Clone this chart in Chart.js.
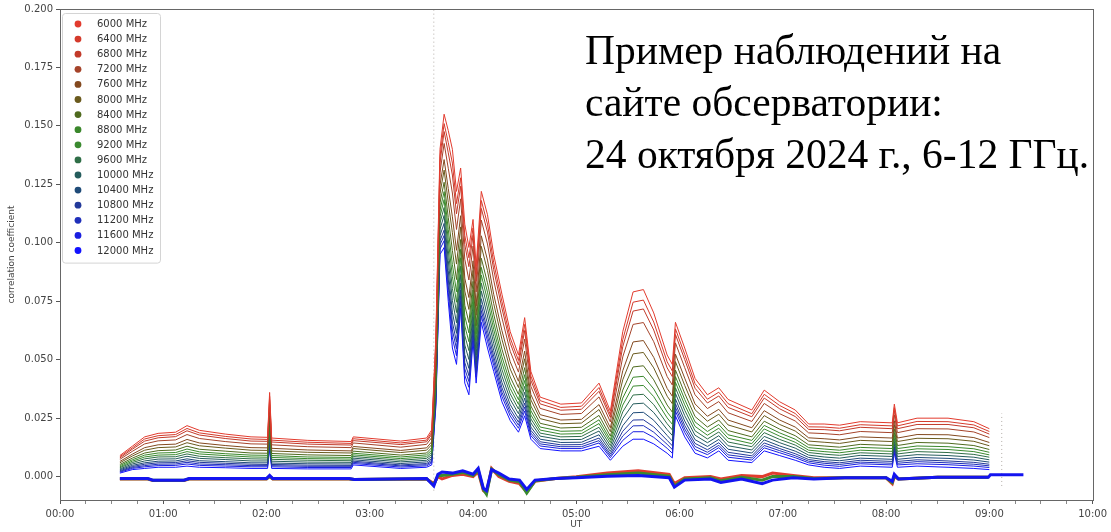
<!DOCTYPE html>
<html>
<head>
<meta charset="utf-8">
<script src="https://cdn.jsdelivr.net/npm/chart.js@4.4.1/dist/chart.umd.min.js"></script>
<style>
  body { margin: 0; background: #fff; }
  #wrap { position: relative; width: 1111px; height: 532px; }
  #note {
    position: absolute; left: 585px; top: 24px;
    font-family: "Liberation Serif", "DejaVu Serif", serif;
    font-size: 41.5px; line-height: 52px; color: #000;
    background: #fff; white-space: nowrap;
  }
</style>
</head>
<body>
<div id="wrap">
  <canvas id="myChart" width="1111" height="532"></canvas>
  <div id="note">Пример наблюдений на<br>сайте обсерватории:<br>24 октября 2024 г., 6-12 ГГц.</div>
</div>
<script>
// time in hours UT
const times = [0.58, 0.70, 0.82, 0.95, 1.12, 1.23, 1.35, 1.60, 1.85, 2.01, 2.03, 2.05, 2.40, 2.82, 2.84, 3.30, 3.55, 3.60, 3.64, 3.68,
  3.72, 3.76, 3.80, 3.84, 3.88, 3.92, 3.96, 4.00, 4.03, 4.08, 4.14, 4.20, 4.28, 4.36, 4.44, 4.50, 4.56, 4.65, 4.85, 5.05,
  5.22, 5.33, 5.45, 5.55, 5.65, 5.75, 5.88, 5.93, 5.96, 6.05, 6.15, 6.27, 6.38, 6.47, 6.70, 6.82, 6.97, 7.12, 7.25, 7.40,
  7.55, 7.75, 8.06, 8.08, 8.11, 8.30, 8.60, 8.85, 9.00];

const freqLabels = ["6000 MHz", "6400 MHz", "6800 MHz", "7200 MHz", "7600 MHz", "8000 MHz", "8400 MHz", "8800 MHz",
  "9200 MHz", "9600 MHz", "10000 MHz", "10400 MHz", "10800 MHz", "11200 MHz", "11600 MHz", "12000 MHz"];

const freqColors = ["#e23b2e", "#d43a2b", "#c23a2a", "#a5432a", "#83491f", "#6a5a1d", "#4f6a1e", "#3a872b",
  "#3a8a2f", "#2f6e47", "#255c5c", "#1f4b78", "#23399a", "#1f2fba", "#1a1fe0", "#1212ff"];

const f6000 = [.0090,.0130,.0170,.0185,.0190,.0218,.0198,.0182,.0170,.0168,.0360,.0165,.0155,.0150,.0170,.0152,.0165,.0200,.0600,.1400,
  .1550,.1480,.1400,.1220,.1320,.1080,.0980,.1100,.0900,.1220,.1120,.0950,.0780,.0620,.0520,.0680,.0450,.0340,.0310,.0315,
  .0400,.0280,.0620,.0790,.0800,.0700,.0520,.0480,.0660,.0550,.0420,.0350,.0380,.0330,.0285,.0370,.0320,.0285,.0225,.0225,
  .0220,.0235,.0230,.0310,.0230,.0250,.0250,.0235,.0205];
const f6400 = [.0085,.0123,.0161,.0175,.0180,.0206,.0187,.0172,.0161,.0159,.0343,.0156,.0147,.0142,.0162,.0144,.0156,.0190,.0579,.1369,
  .1510,.1429,.1341,.1168,.1278,.1032,.0936,.1064,.0865,.1181,.1080,.0915,.0748,.0593,.0497,.0651,.0430,.0325,.0296,.0301,
  .0381,.0265,.0586,.0746,.0755,.0661,.0491,.0452,.0632,.0523,.0398,.0331,.0361,.0312,.0269,.0352,.0304,.0270,.0213,.0212,
  .0207,.0222,.0217,.0295,.0217,.0236,.0235,.0221,.0193];
const f6800 = [.0080,.0117,.0152,.0166,.0171,.0196,.0178,.0163,.0152,.0151,.0329,.0148,.0139,.0135,.0154,.0137,.0149,.0181,.0561,.1342,
  .1476,.1385,.1290,.1124,.1242,.0992,.0898,.1032,.0835,.1147,.1046,.0885,.0720,.0571,.0477,.0625,.0412,.0311,.0284,.0288,
  .0365,.0253,.0556,.0708,.0717,.0627,.0465,.0428,.0608,.0501,.0378,.0315,.0345,.0296,.0256,.0336,.0290,.0257,.0202,.0201,
  .0196,.0211,.0205,.0283,.0205,.0223,.0223,.0209,.0182];
const f7200 = [.0074,.0108,.0140,.0153,.0157,.0180,.0163,.0150,.0140,.0139,.0307,.0136,.0128,.0124,.0144,.0126,.0138,.0167,.0534,.1301,
  .1425,.1319,.1213,.1057,.1188,.0930,.0841,.0986,.0790,.1097,.0995,.0840,.0679,.0536,.0447,.0588,.0386,.0292,.0266,.0270,
  .0341,.0234,.0512,.0651,.0659,.0577,.0428,.0392,.0572,.0466,.0350,.0291,.0321,.0273,.0236,.0313,.0269,.0238,.0187,.0184,
  .0179,.0193,.0188,.0264,.0188,.0205,.0204,.0191,.0167];
const f7600 = [.0065,.0096,.0124,.0136,.0139,.0159,.0144,.0133,.0124,.0123,.0278,.0121,.0114,.0110,.0129,.0112,.0123,.0149,.0498,.1247,
  .1356,.1232,.1111,.0968,.1116,.0849,.0766,.0923,.0730,.1030,.0926,.0780,.0624,.0491,.0408,.0537,.0351,.0265,.0242,.0245,
  .0308,.0209,.0453,.0576,.0582,.0510,.0377,.0344,.0524,.0421,.0311,.0258,.0288,.0242,.0209,.0282,.0242,.0212,.0166,.0162,
  .0157,.0170,.0165,.0239,.0165,.0180,.0179,.0167,.0146];
const f8000 = [.0059,.0088,.0113,.0124,.0127,.0145,.0132,.0122,.0113,.0112,.0259,.0110,.0104,.0101,.0120,.0103,.0113,.0137,.0474,.1211,
  .1311,.1173,.1043,.0909,.1068,.0794,.0715,.0882,.0690,.0985,.0881,.0740,.0587,.0460,.0381,.0504,.0328,.0248,.0226,.0229,
  .0287,.0192,.0414,.0525,.0531,.0465,.0344,.0312,.0492,.0390,.0286,.0237,.0267,.0221,.0191,.0261,.0223,.0195,.0152,.0147,
  .0142,.0155,.0150,.0222,.0150,.0164,.0162,.0151,.0132];
const f8400 = [.0052,.0079,.0101,.0111,.0114,.0130,.0117,.0109,.0101,.0100,.0238,.0099,.0093,.0090,.0109,.0092,.0101,.0124,.0447,.1171,
  .1259,.1108,.0967,.0843,.1014,.0733,.0659,.0835,.0645,.0934,.0829,.0695,.0545,.0426,.0352,.0466,.0302,.0228,.0208,.0211,
  .0262,.0173,.0370,.0469,.0474,.0414,.0306,.0276,.0456,.0356,.0257,.0212,.0242,.0197,.0170,.0237,.0203,.0175,.0136,.0131,
  .0126,.0138,.0133,.0203,.0133,.0146,.0143,.0133,.0116];
const f8800 = [.0047,.0072,.0092,.0101,.0103,.0118,.0106,.0098,.0092,.0091,.0221,.0090,.0084,.0082,.0100,.0084,.0093,.0113,.0426,.1139,
  .1219,.1057,.0907,.0791,.0972,.0686,.0615,.0798,.0610,.0895,.0789,.0660,.0513,.0400,.0329,.0436,.0282,.0212,.0194,.0196,
  .0243,.0158,.0336,.0425,.0429,.0375,.0276,.0248,.0428,.0330,.0234,.0193,.0223,.0179,.0155,.0219,.0187,.0160,.0124,.0118,
  .0113,.0125,.0120,.0188,.0120,.0131,.0128,.0119,.0104];
const f9200 = [.0042,.0066,.0084,.0092,.0094,.0107,.0097,.0090,.0084,.0083,.0206,.0082,.0077,.0075,.0093,.0077,.0085,.0104,.0408,.1112,
  .1185,.1013,.0856,.0746,.0936,.0645,.0577,.0767,.0580,.0862,.0755,.0630,.0486,.0377,.0309,.0411,.0264,.0199,.0182,.0184,
  .0227,.0146,.0306,.0387,.0390,.0342,.0251,.0224,.0404,.0307,.0215,.0177,.0207,.0164,.0141,.0204,.0173,.0147,.0113,.0107,
  .0102,.0113,.0108,.0176,.0108,.0119,.0116,.0107,.0093];
const f9600 = [.0038,.0060,.0076,.0084,.0085,.0097,.0087,.0081,.0076,.0075,.0192,.0074,.0070,.0068,.0086,.0070,.0078,.0095,.0390,.1085,
  .1151,.0969,.0805,.0702,.0900,.0604,.0539,.0736,.0550,.0828,.0721,.0600,.0458,.0354,.0289,.0386,.0247,.0186,.0170,.0172,
  .0211,.0133,.0277,.0349,.0352,.0308,.0226,.0200,.0380,.0284,.0196,.0161,.0191,.0148,.0128,.0188,.0159,.0135,.0103,.0096,
  .0091,.0102,.0097,.0163,.0097,.0107,.0103,.0095,.0083];
const f10000 = [.0033,.0054,.0067,.0075,.0076,.0087,.0078,.0073,.0067,.0067,.0178,.0066,.0062,.0061,.0079,.0063,.0070,.0086,.0372,.1058,
  .1117,.0925,.0754,.0658,.0864,.0563,.0501,.0705,.0520,.0794,.0687,.0570,.0430,.0331,.0269,.0361,.0230,.0173,.0158,.0159,
  .0195,.0120,.0248,.0311,.0314,.0274,.0201,.0176,.0356,.0261,.0177,.0145,.0175,.0132,.0114,.0172,.0145,.0122,.0092,.0084,
  .0079,.0091,.0086,.0150,.0086,.0094,.0090,.0083,.0072];
const f10400 = [.0029,.0048,.0059,.0066,.0067,.0076,.0068,.0064,.0059,.0059,.0163,.0058,.0055,.0054,.0072,.0056,.0063,.0077,.0354,.1031,
  .1083,.0881,.0703,.0613,.0828,.0522,.0463,.0674,.0490,.0761,.0653,.0540,.0403,.0308,.0249,.0336,.0212,.0160,.0146,.0147,
  .0179,.0108,.0218,.0273,.0275,.0241,.0176,.0152,.0332,.0238,.0158,.0129,.0159,.0117,.0101,.0157,.0131,.0109,.0082,.0073,
  .0068,.0079,.0074,.0138,.0074,.0082,.0078,.0071,.0062];
const f10800 = [.0025,.0043,.0053,.0059,.0060,.0068,.0061,.0057,.0053,.0052,.0151,.0052,.0049,.0048,.0066,.0050,.0056,.0070,.0339,.1009,
  .1054,.0845,.0661,.0576,.0798,.0488,.0432,.0648,.0465,.0733,.0624,.0515,.0380,.0289,.0233,.0315,.0198,.0149,.0136,.0137,
  .0165,.0097,.0194,.0242,.0243,.0213,.0155,.0132,.0312,.0219,.0142,.0115,.0145,.0104,.0089,.0144,.0120,.0098,.0073,.0064,
  .0059,.0070,.0065,.0127,.0065,.0072,.0067,.0061,.0053];
const f11200 = [.0022,.0039,.0047,.0053,.0054,.0061,.0054,.0051,.0047,.0047,.0142,.0047,.0044,.0044,.0061,.0046,.0051,.0064,.0327,.0991,
  .1031,.0816,.0627,.0547,.0774,.0461,.0407,.0627,.0445,.0710,.0601,.0495,.0361,.0274,.0220,.0298,.0186,.0140,.0128,.0128,
  .0154,.0089,.0174,.0217,.0218,.0190,.0138,.0116,.0296,.0204,.0129,.0104,.0134,.0093,.0080,.0133,.0111,.0089,.0066,.0057,
  .0052,.0062,.0057,.0119,.0057,.0064,.0059,.0053,.0046];
const f11600 = [.0019,.0035,.0042,.0047,.0048,.0054,.0048,.0045,.0042,.0042,.0132,.0042,.0039,.0039,.0056,.0041,.0046,.0058,.0315,.0973,
  .1009,.0787,.0593,.0517,.0750,.0434,.0382,.0606,.0425,.0688,.0579,.0475,.0343,.0259,.0207,.0281,.0175,.0131,.0120,.0120,
  .0144,.0081,.0155,.0192,.0192,.0168,.0121,.0100,.0280,.0189,.0116,.0094,.0124,.0083,.0071,.0123,.0102,.0081,.0059,.0049,
  .0044,.0055,.0050,.0111,.0050,.0055,.0051,.0045,.0039];
const f12000 = [.0015,.0030,.0035,.0040,.0040,.0045,.0040,.0038,.0035,.0035,.0120,.0035,.0033,.0033,.0050,.0035,.0040,.0050,.0300,.0950,
  .0980,.0750,.0550,.0480,.0720,.0400,.0350,.0580,.0400,.0660,.0550,.0450,.0320,.0240,.0190,.0260,.0160,.0120,.0110,.0110,
  .0130,.0070,.0130,.0160,.0160,.0140,.0100,.0080,.0260,.0170,.0100,.0080,.0110,.0070,.0060,.0110,.0090,.0070,.0050,.0040,
  .0035,.0045,.0040,.0100,.0040,.0045,.0040,.0035,.0030];

const seriesValues = [f6000, f6400, f6800, f7200, f7600, f8000, f8400, f8800,
  f9200, f9600, f10000, f10400, f10800, f11200, f11600, f12000];

// near-zero traces
const zeroTimes = [0.58, 0.85, 0.9, 1.2, 1.25, 2.0, 2.03, 2.06, 2.8, 2.85, 3.55, 3.62, 3.66, 3.7, 3.8, 3.9, 4.0, 4.05, 4.1, 4.13,
  4.18, 4.25, 4.35, 4.45, 4.52, 4.6, 4.8, 5.0, 5.3, 5.6, 5.9, 5.95, 6.05, 6.3, 6.4, 6.6, 6.8, 6.9, 7.1, 7.3,
  7.6, 8.0, 8.06, 8.08, 8.12, 8.5, 8.99, 9.01, 9.33];
const zeroBlue = [-0.0008, -0.0008, -0.0015, -0.0015, -0.0008, -0.0008, 0.0005, -0.0008, -0.0008, -0.0012,
  -0.0008, -0.0040, 0.0010, 0.0020, 0.0015, 0.0025, 0.0010, 0.0035, -0.0050, -0.0060,
  0.0030, 0.0015, -0.0010, -0.0015, -0.0055, -0.0015, -0.0008, -0.0005, 0.0002, 0.0005,
  -0.0005, -0.0045, -0.0015, -0.0010, -0.0025, -0.0010, -0.0030, -0.0015, -0.0005, -0.0010,
  -0.0005, -0.0005, -0.0020, 0.0010, -0.0010, -0.0003, -0.0003, 0.0008, 0.0008];
const zeroGreen = [-0.0009, -0.0009, -0.0016, -0.0016, -0.0009, -0.0009, 0.0002, -0.0009, -0.0009, -0.0012,
  -0.0009, -0.0035, 0.0005, 0.0005, 0.0010, 0.0018, 0.0005, 0.0028, -0.0055, -0.0075,
  0.0032, 0.0008, -0.0015, -0.0022, -0.0070, -0.0018, -0.0008, -0.0003, 0.0008, 0.0015,
  0.0002, -0.0040, -0.0010, -0.0005, -0.0018, -0.0003, -0.0015, 0.0000, 0.0000, -0.0008,
  -0.0005, -0.0005, -0.0025, 0.0005, -0.0010, -0.0003, -0.0003, null, null];
const zeroRed = [-0.0010, -0.0010, -0.0017, -0.0017, -0.0010, -0.0010, 0.0000, -0.0010, -0.0010, -0.0012,
  -0.0010, -0.0030, 0.0000, -0.0010, 0.0005, 0.0010, 0.0000, 0.0020, -0.0060, -0.0070,
  0.0035, 0.0000, -0.0020, -0.0030, -0.0065, -0.0020, -0.0008, 0.0000, 0.0015, 0.0025,
  0.0010, -0.0030, -0.0005, 0.0000, -0.0010, 0.0005, 0.0000, 0.0015, 0.0005, -0.0005,
  -0.0005, -0.0005, -0.0030, 0.0000, -0.0010, -0.0003, -0.0003, null, null];

// dotted glitch lines
const glitchTimes = [3.62, 9.12];
const glitchLow = [-0.006, -0.004];
const glitchHigh = [0.2, 0.027];

// axis ticks
const xTickHours = [0, 1, 2, 3, 4, 5, 6, 7, 8, 9, 10];
const xTickLabels = ["00:00", "01:00", "02:00", "03:00", "04:00", "05:00", "06:00", "07:00", "08:00", "09:00", "10:00"];
const yTicks = [0, 0.025, 0.05, 0.075, 0.1, 0.125, 0.15, 0.175, 0.2];

const toPoints = (xs, ys) => ys.map((v, i) => ({ x: xs[i], y: v }));

const datasets = seriesValues.map((vals, i) => ({
  label: freqLabels[i],
  data: toPoints(times, vals),
  borderColor: freqColors[i],
  borderWidth: 1,
  pointRadius: 0,
  inLegend: true
}));

datasets.push({ label: "zero 12000", data: toPoints(zeroTimes, zeroBlue), borderColor: "#1414f0", borderWidth: 3, pointRadius: 0 });
datasets.push({ label: "zero 9200", data: toPoints(zeroTimes, zeroGreen), borderColor: "#3a8a2f", borderWidth: 3, pointRadius: 0 });
datasets.push({ label: "zero 6000", data: toPoints(zeroTimes, zeroRed), borderColor: "#e03c2e", borderWidth: 3, pointRadius: 0 });

glitchTimes.forEach((t, i) => {
  datasets.push({
    label: "glitch " + i,
    data: [{ x: t, y: glitchLow[i] }, { x: t, y: glitchHigh[i] }],
    borderColor: "rgba(120,110,100,0.55)",
    borderWidth: 1,
    borderDash: [1, 3],
    pointRadius: 0
  });
});

// legend box drawn inside the plot, matplotlib style
const legendBox = {
  id: "legendBox",
  afterDraw(chart) {
    const ctx = chart.ctx;
    const a = chart.chartArea;
    const items = chart.data.datasets.filter(d => d.inLegend);
    const rowH = 15.1;
    const x0 = a.left + 2, y0 = a.top + 4;
    const w = 98, h = items.length * rowH + 8;
    ctx.save();
    ctx.fillStyle = "rgba(255,255,255,0.9)";
    ctx.strokeStyle = "#d4d4d4";
    ctx.lineWidth = 1;
    ctx.beginPath();
    ctx.roundRect(x0 + 0.5, y0 + 0.5, w, h, 3);
    ctx.fill();
    ctx.stroke();
    ctx.font = "10px 'DejaVu Sans'";
    ctx.textBaseline = "middle";
    items.forEach((d, i) => {
      const cy = y0 + 11 + i * rowH;
      ctx.fillStyle = d.borderColor;
      ctx.beginPath();
      ctx.arc(x0 + 16, cy, 3.4, 0, Math.PI * 2);
      ctx.fill();
      ctx.fillStyle = "#333";
      ctx.fillText(d.label, x0 + 35, cy + 0.5);
    });
    ctx.restore();
  }
};

// full frame around the plot
const frame = {
  id: "frame",
  afterDatasetsDraw(chart) {
    const ctx = chart.ctx, a = chart.chartArea;
    ctx.save();
    ctx.strokeStyle = "#666";
    ctx.lineWidth = 1;
    ctx.strokeRect(Math.round(a.left) + 0.5, Math.round(a.top) + 0.5, Math.round(a.width), Math.round(a.height));
    ctx.restore();
  }
};

const ctx = document.getElementById("myChart").getContext("2d");
const chart = new Chart(ctx, {
  type: "line",
  data: { datasets: datasets },
  plugins: [legendBox, frame],
  options: {
    responsive: false,
    animation: false,
    layout: { padding: { top: 9, right: 11, left: 0, bottom: 0 } },
    elements: { line: { tension: 0, fill: false } },
    plugins: {
      legend: { display: false },
      tooltip: { enabled: false }
    },
    scales: {
      x: {
        type: "linear",
        min: 0,
        max: 10,
        afterBuildTicks: scale => {
          const t = [];
          for (let q = 0; q <= 40; q++) t.push({ value: q / 4 });
          scale.ticks = t;
        },
        afterFit: scale => { scale.height = 32; },
        ticks: {
          autoSkip: false,
          maxRotation: 0,
          padding: 4,
          color: "#444",
          font: { family: "DejaVu Sans", size: 10 },
          callback: v => {
            const k = xTickHours.indexOf(v);
            return k >= 0 ? xTickLabels[k] : "";
          }
        },
        grid: {
          drawOnChartArea: false,
          drawTicks: true,
          tickLength: 4,
          tickColor: c => (Number.isInteger(c.tick.value) ? "#555" : "#888")
        },
        border: { display: true, color: "#666" },
        title: {
          display: true,
          text: "UT",
          color: "#444",
          font: { family: "DejaVu Sans", size: 9 },
          padding: { top: 0, bottom: 2 }
        }
      },
      y: {
        min: -0.01,
        max: 0.2,
        afterBuildTicks: scale => { scale.ticks = yTicks.map(v => ({ value: v })); },
        afterFit: scale => { scale.width = 60; },
        ticks: {
          padding: 3,
          color: "#444",
          font: { family: "DejaVu Sans", size: 10 },
          callback: v => Number(v).toFixed(3)
        },
        grid: {
          drawOnChartArea: false,
          drawTicks: true,
          tickLength: 4,
          tickColor: "#555"
        },
        border: { display: true, color: "#666" },
        title: {
          display: true,
          text: "correlation coefficient",
          color: "#444",
          font: { family: "DejaVu Sans", size: 9 },
          padding: { top: 6, bottom: 0 }
        }
      }
    }
  }
});
</script>
</body>
</html>
